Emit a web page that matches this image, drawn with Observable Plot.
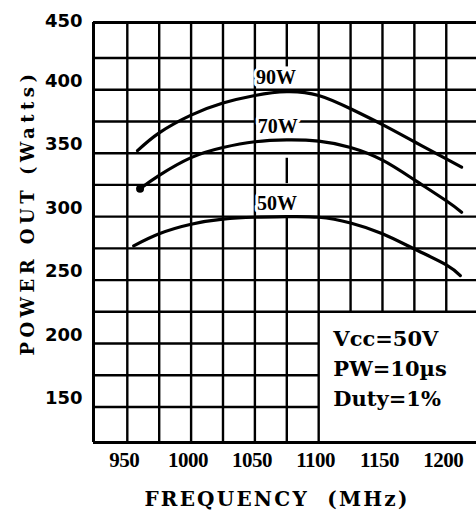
<!DOCTYPE html>
<html>
<head>
<meta charset="utf-8">
<script src="https://cdn.jsdelivr.net/npm/d3@7"></script>
<script src="https://cdn.jsdelivr.net/npm/@observablehq/plot@0.6"></script>
<style>
  html, body { margin: 0; padding: 0; background: #fff; }
  #chart svg { display: block; }
</style>
</head>
<body>
<div id="chart"></div>
<script>
// ---- data ----
const freqTicks = [950, 1000, 1050, 1100, 1150, 1200];
const powerTicks = [150, 200, 250, 300, 350, 400, 450];
const xGrid = [950, 975, 1000, 1025, 1050, 1075, 1100, 1125, 1150, 1175, 1200];
const yGrid = [150, 175, 200, 225, 250, 275, 300, 325, 350, 375, 400, 425];
const xDomain = [923.5, 1223.7];
const yDomain = [122, 453];

// visible pieces of the 1075 MHz grid line (broken behind the labels)
const seg1075 = [[418, 453], [326, 346], [122, 300]];
// annotation box corner (grid removed below/right)
const boxFreq = 1100;
const boxPower = 225;

const freq90 = [958, 975, 1000, 1025, 1050, 1075, 1100, 1125, 1150, 1175, 1200, 1212];
const pow90  = [352, 366, 380, 389.5, 395.5, 398.5, 395.5, 385, 372.5, 359, 345.5, 339];
const freq70 = [960, 975, 1000, 1025, 1050, 1075, 1100, 1125, 1150, 1175, 1200, 1212];
const pow70  = [322, 332.5, 346.5, 354.5, 359, 360.5, 359.5, 354.5, 344.5, 329, 312.5, 303.5];
const freq50 = [955, 975, 1000, 1025, 1050, 1075, 1100, 1125, 1150, 1175, 1200, 1211];
const pow50  = [277, 286.5, 294, 298, 299.5, 300, 299.5, 295, 286.5, 274.5, 262, 253.5];

const labelText  = ["90W", "70W", "50W"];
const labelFreq  = [1066.5, 1068, 1067.3];
const labelPower = [409.2, 370.6, 310.6];

const noteText = ["Vcc=50V", "PW=10µs", "Duty=1%"];
const noteFreq = 1111.5;
const notePower = 215;

const xTitle = "FREQUENCY  (MHz)";
const yTitle = "POWER OUT (Watts)";

// ---- tables built from the arrays ----
const series = (f, p) => f.map((x, i) => ({x, y: p[i]}));
const s90 = series(freq90, pow90);
const s70 = series(freq70, pow70);
const s50 = series(freq50, pow50);

const hLines = yGrid.map(y => ({y, x1: xDomain[0], x2: y < boxPower ? boxFreq : xDomain[1]}));
const vLines = xGrid.flatMap(x =>
  x === 1075
    ? seg1075.map(([a, b]) => ({x, y1: a, y2: b}))
    : [{x, y1: x > boxFreq ? boxPower : yDomain[0], y2: yDomain[1]}]);
const labels = labelText.map((t, i) => ({t, x: labelFreq[i], y: labelPower[i]}));

const serif = "'DejaVu Serif', serif";
const lserif = "'Liberation Serif', serif";
const sans = "'DejaVu Sans', sans-serif";

const chart = Plot.plot({
  width: 476,
  height: 514,
  marginLeft: 93,
  marginRight: 0,
  marginTop: 22,
  marginBottom: 72,
  style: {background: "#fff", overflow: "visible"},
  x: {domain: xDomain, axis: null},
  y: {domain: yDomain, axis: null},
  marks: [
    Plot.ruleY(hLines, {y: "y", x1: "x1", x2: "x2", stroke: "#000", strokeWidth: 2.4}),
    Plot.ruleX(vLines, {x: "x", y1: "y1", y2: "y2", stroke: "#000", strokeWidth: 2.4}),
    Plot.ruleX([xDomain[0]], {y1: yDomain[0], y2: yDomain[1], stroke: "#000", strokeWidth: 3}),
    Plot.ruleY(yDomain, {x1: xDomain[0], x2: xDomain[1], stroke: "#000", strokeWidth: 3}),
    Plot.line(s90, {x: "x", y: "y", curve: "natural", stroke: "#000", strokeWidth: 3.2}),
    Plot.line(s70, {x: "x", y: "y", curve: "natural", stroke: "#000", strokeWidth: 3.2}),
    Plot.line(s50, {x: "x", y: "y", curve: "natural", stroke: "#000", strokeWidth: 3.2}),
    Plot.dot([s70[0]], {x: "x", y: "y", r: 4, fill: "#000"}),
    Plot.text(labels, {x: "x", y: "y", text: "t", fill: "#000", stroke: "#fff", strokeWidth: 6,
      fontFamily: lserif, fontSize: 20, fontWeight: "bold"}),
    Plot.text([noteText.join("\n")], {x: noteFreq, y: notePower, textAnchor: "start", lineAnchor: "top",
      lineHeight: 1.43, fill: "#000", fontFamily: serif, fontSize: 21, fontWeight: "bold"}),
    // y tick labels
    Plot.text(powerTicks.filter(d => d < 450), {y: d => d, text: d => String(d), frameAnchor: "left",
      textAnchor: "end", dx: -11, dy: -8.5, fill: "#000", fontFamily: sans, fontSize: 18, fontWeight: "bold"}),
    Plot.text(powerTicks.filter(d => d >= 450), {y: d => d, text: d => String(d), frameAnchor: "left",
      textAnchor: "end", dx: -11, dy: -5, fill: "#000", fontFamily: sans, fontSize: 18, fontWeight: "bold"}),
    // x tick labels
    Plot.text(freqTicks, {x: d => d, text: d => String(d), frameAnchor: "bottom", dy: 18, dx: -3,
      textAnchor: "middle", lineAnchor: "middle", fill: "#000", fontFamily: lserif, fontSize: 21, fontWeight: "bold"}),
    // axis titles
    Plot.text([xTitle], {frameAnchor: "bottom", dx: -8, dy: 57, textAnchor: "middle", lineAnchor: "middle",
      fill: "#000", fontFamily: serif, fontSize: 20, fontWeight: "bold"}),
    Plot.text([yTitle], {frameAnchor: "left", rotate: -90, dx: -65, dy: -20, textAnchor: "middle",
      lineAnchor: "middle", fill: "#000", fontFamily: serif, fontSize: 18, fontWeight: "bold"})
  ]
});
document.getElementById("chart").append(chart);
const svg = d3.select(chart);
svg.selectAll("text").filter(function() { return this.textContent === xTitle; }).style("letter-spacing", "2.2px");
svg.selectAll("text").filter(function() { return this.textContent === yTitle; }).style("letter-spacing", "4.5px");
svg.selectAll("text").filter(function() { return freqTicks.map(String).includes(this.textContent); })
  .style("letter-spacing", "-0.5px");
</script>
</body>
</html>
